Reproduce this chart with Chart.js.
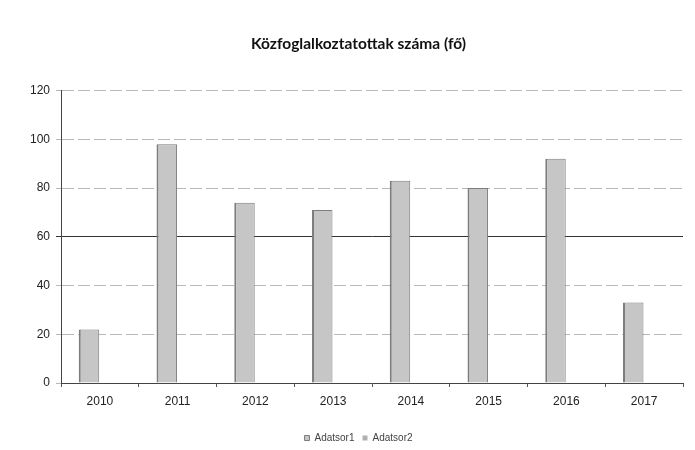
<!DOCTYPE html>
<html>
<head>
<meta charset="utf-8">
<script src="https://cdn.jsdelivr.net/npm/chart.js@4/dist/chart.umd.min.js"></script>
<style>
html,body{margin:0;padding:0;background:#fff;}
#wrap{position:relative;width:695px;height:450px;}
</style>
</head>
<body>
<div id="wrap"><canvas id="c" width="695" height="450"></canvas></div>
<script>
const categories = ['2010','2011','2012','2013','2014','2015','2016','2017'];
const series1 = [22, 98, 74, 71, 83, 80, 92, 33];
const series2 = [0, 0, 0, 0, 0, 0, 0, 0];
const seriesNames = ['Adatsor1', 'Adatsor2'];
const titleText = 'Közfoglalkoztatottak száma (fő)';
const yTicks = [0, 20, 40, 60, 80, 100, 120];

const shiftBlocks = {
  id: 'shiftBlocks',
  afterLayout(chart) {
    const d = 10;
    if (chart.titleBlock) { chart.titleBlock.left += d; chart.titleBlock.right += d; }
    if (chart.legend) {
      chart.legend.left += d; chart.legend.right += d;
      chart.legend.top += 3; chart.legend.bottom += 3;
    }
  }
};

new Chart(document.getElementById('c'), {
  type: 'bar',
  data: {
    labels: categories,
    datasets: [
      { label: seriesNames[0], data: series1, backgroundColor: '#c6c6c6',
        borderColor: '#7d7d7d', borderWidth: {left: 2, right: 1, top: 1, bottom: 0},
        categoryPercentage: 0.56, barPercentage: 0.94 },
      { label: seriesNames[1], data: series2, backgroundColor: '#b0b0b0',
        borderColor: '#555', borderWidth: 0,
        categoryPercentage: 0.56, barPercentage: 0.94 }
    ]
  },
  plugins: [shiftBlocks],
  options: {
    responsive: false,
    animation: false,
    devicePixelRatio: 1,
    layout: { padding: { left: 14, right: 12, top: 0, bottom: 0 } },
    plugins: {
      tooltip: { enabled: false },
      title: {
        display: true, text: titleText, color: '#111',
        font: { family: 'Lato', size: 15.5, weight: 'bold' },
        padding: { top: 35, bottom: 37 }
      },
      legend: {
        position: 'bottom',
        labels: {
          color: '#444', font: { family: 'Liberation Sans', size: 10 },
          boxWidth: 5, boxHeight: 5, padding: 8
        }
      }
    },
    scales: {
      x: {
        grid: { display: true, drawOnChartArea: false, drawTicks: true, tickLength: 4, color: '#555', offset: true },
        border: { color: '#444', width: 1 },
        ticks: { color: '#222', font: { family: 'Liberation Sans', size: 12 }, padding: 7 },
        afterFit: s => { s.height = 39; }
      },
      y: {
        min: 0, max: 120,
        afterBuildTicks: s => { s.ticks = yTicks.map(v => ({ value: v })); },
        grid: {
          color: ctx => (ctx.tick && ctx.tick.value === 60) ? '#333' : '#b8b8b8',
          lineWidth: 1,
          tickLength: 5
        },
        border: {
          color: '#444', width: 1,
          dash: ctx => (ctx.tick && ctx.tick.value !== 60 && ctx.tick.value !== 0) ? [12, 4] : []
        },
        ticks: { color: '#222', font: { family: 'Liberation Sans', size: 12 }, padding: 6 },
        afterFit: s => { s.width = 47; }
      }
    }
  }
});
</script>
</body>
</html>
